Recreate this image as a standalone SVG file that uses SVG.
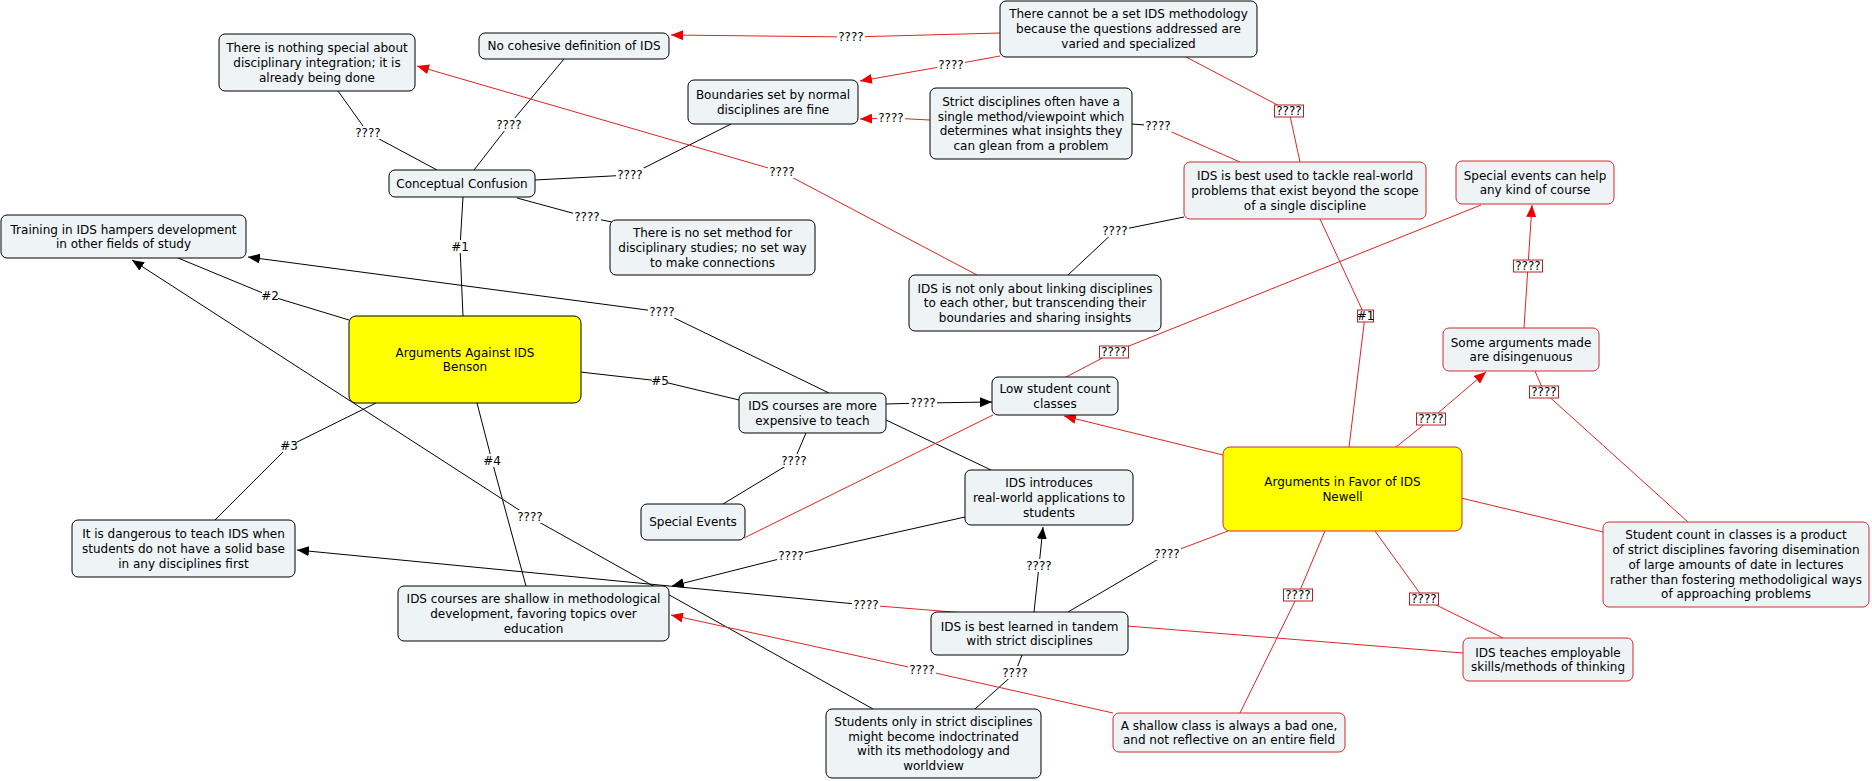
<svg xmlns="http://www.w3.org/2000/svg" width="1872" height="781" viewBox="0 0 1872 781">
<style>
text{font-family:"DejaVu Sans",Verdana,sans-serif;font-size:12px;text-anchor:middle;fill:#000}
.n{fill:#eef3f5;stroke:#000;stroke-width:1}
.nr{fill:#eef3f5;stroke:#d42a2a;stroke-width:1}
.y{fill:#ffff00;stroke:#000;stroke-width:1}
.yr{fill:#ffff00;stroke:#d42a2a;stroke-width:1}
.k{fill:none;stroke:#000;stroke-width:1}
.r{fill:none;stroke:#e02424;stroke-width:1}
.lb{fill:#fff;stroke:none}
.lbr{fill:#fff;stroke:#b22222;stroke-width:1}
</style>
<defs>
<marker id="ak" viewBox="0 0 12 10" refX="12" refY="5" markerWidth="12" markerHeight="10" markerUnits="userSpaceOnUse" orient="auto"><path d="M0,0 L12,5 L0,10 z" fill="#000"/></marker>
<marker id="ar" viewBox="0 0 12 10" refX="12" refY="5" markerWidth="12" markerHeight="10" markerUnits="userSpaceOnUse" orient="auto"><path d="M0,0 L12,5 L0,10 z" fill="#e00"/></marker>
</defs>
<rect width="1872" height="781" fill="#fff"/>
<g id="connectors">
<!-- black -->
<polyline class="k" points="437,170 368,133 338,91"/>
<polyline class="k" points="474,170 509,125 564,59"/>
<polyline class="k" points="535,180 630,175 731,124"/>
<polyline class="k" points="517,198 587,217 612,222"/>
<polyline class="k" points="463,316 460,247 463,197"/>
<polyline class="k" points="349,320 270,296 178,258"/>
<polyline class="k" points="376,403 289,446 215,520"/>
<polyline class="k" points="477,403 492,461 526,586"/>
<polyline class="k" points="580,372 660,381 739,400"/>
<polyline class="k" points="829,393 662,312 248,257" marker-end="url(#ak)"/>
<polyline class="k" points="886,404 923,403 992,402" marker-end="url(#ak)"/>
<polyline class="k" points="806,433 794,461 723,504"/>
<line class="k" x1="886" y1="420" x2="991" y2="470"/>
<polyline class="k" points="873,709 530,517 132,260" marker-end="url(#ak)"/>
<polyline class="k" points="965,517 791,556 672,586" marker-end="url(#ak)"/>
<polyline class="k" points="1034,612 1039,566 1043,527" marker-end="url(#ak)"/>
<polyline class="k" points="1068,612 1167,554"/>
<polyline class="r" points="1167,554 1228,531"/>
<polyline class="k" points="1022,655 1015,673 975,709"/>
<polyline class="r" points="1463,653 866,605"/>
<polyline class="k" points="866,605 297,550" marker-end="url(#ak)"/>
<polyline class="k" points="1184,217 1115,231 1068,275"/>
<!-- red -->
<polyline class="r" points="977,275 782,172 417,66" marker-end="url(#ar)"/>
<polyline class="r" points="930,120 891,118 860,119" marker-end="url(#ar)"/>
<polyline class="k" points="1132,124 1158,126"/>
<polyline class="r" points="1158,126 1240,162"/>
<polyline class="r" points="1000,33 851,37 671,35" marker-end="url(#ar)"/>
<polyline class="r" points="1000,56 951,65 860,81" marker-end="url(#ar)"/>
<polyline class="r" points="1300,162 1289,111 1186,57"/>
<polyline class="r" points="1349,447 1365,316 1320,219"/>
<polyline class="r" points="1396,447 1431,419 1486,372" marker-end="url(#ar)"/>
<line class="r" x1="1461" y1="498" x2="1603" y2="532"/>
<polyline class="r" points="1325,531 1298,595 1240,713"/>
<polyline class="r" points="1375,531 1424,599 1503,638"/>
<polyline class="r" points="1688,522 1544,392 1535,371"/>
<polyline class="r" points="1524,328 1528,266 1532,205" marker-end="url(#ar)"/>
<polyline class="r" points="1481,205 1114,352 1066,377"/>
<line class="r" x1="744" y1="538" x2="993" y2="415"/>
<line class="r" x1="1223" y1="455" x2="1064" y2="416" marker-end="url(#ar)"/>
<polyline class="r" points="1113,713 922,670 671,615" marker-end="url(#ar)"/>
<!-- labels -->
<g>
<rect class="lb" x="354" y="126" width="28" height="13"/><text x="368" y="137.3">????</text>
<rect class="lb" x="495" y="118" width="28" height="13"/><text x="509" y="129.3">????</text>
<rect class="lb" x="616" y="168" width="28" height="13"/><text x="630" y="179.3">????</text>
<rect class="lb" x="573" y="210" width="28" height="13"/><text x="587" y="221.3">????</text>
<rect class="lb" x="452" y="240" width="16" height="13"/><text x="460" y="251.3">#1</text>
<rect class="lb" x="262" y="289" width="16" height="13"/><text x="270" y="300.3">#2</text>
<rect class="lb" x="281" y="439" width="16" height="13"/><text x="289" y="450.3">#3</text>
<rect class="lb" x="484" y="454" width="16" height="13"/><text x="492" y="465.3">#4</text>
<rect class="lb" x="652" y="374" width="16" height="13"/><text x="660" y="385.3">#5</text>
<rect class="lb" x="648" y="305" width="28" height="13"/><text x="662" y="316.3">????</text>
<rect class="lb" x="909" y="396" width="28" height="13"/><text x="923" y="407.3">????</text>
<rect class="lb" x="780" y="454" width="28" height="13"/><text x="794" y="465.3">????</text>
<rect class="lb" x="516" y="510" width="28" height="13"/><text x="530" y="521.3">????</text>
<rect class="lb" x="777" y="549" width="28" height="13"/><text x="791" y="560.3">????</text>
<rect class="lb" x="1025" y="559" width="28" height="13"/><text x="1039" y="570.3">????</text>
<rect class="lb" x="1153" y="547" width="28" height="13"/><text x="1167" y="558.3">????</text>
<rect class="lb" x="1001" y="666" width="28" height="13"/><text x="1015" y="677.3">????</text>
<rect class="lb" x="852" y="598" width="28" height="13"/><text x="866" y="609.3">????</text>
<rect class="lb" x="1101" y="224" width="28" height="13"/><text x="1115" y="235.3">????</text>
<rect class="lb" x="768" y="165" width="28" height="13"/><text x="782" y="176.3">????</text>
<rect class="lb" x="877" y="111" width="28" height="13"/><text x="891" y="122.3">????</text>
<rect class="lb" x="1144" y="119" width="28" height="13"/><text x="1158" y="130.3">????</text>
<rect class="lb" x="837" y="30" width="28" height="13"/><text x="851" y="41.3">????</text>
<rect class="lb" x="937" y="58" width="28" height="13"/><text x="951" y="69.3">????</text>
<rect class="lb" x="908" y="663" width="28" height="13"/><text x="922" y="674.3">????</text>
<rect class="lbr" x="1274.5" y="105" width="29" height="12"/><text x="1289" y="115.3">????</text>
<rect class="lbr" x="1357.5" y="310" width="16" height="12"/><text x="1365.5" y="320.3">#1</text>
<rect class="lbr" x="1416.5" y="413" width="29" height="12"/><text x="1431" y="423.3">????</text>
<rect class="lbr" x="1283.5" y="589" width="29" height="12"/><text x="1298" y="599.3">????</text>
<rect class="lbr" x="1409.5" y="593" width="29" height="12"/><text x="1424" y="603.3">????</text>
<rect class="lbr" x="1529.5" y="386" width="29" height="12"/><text x="1544" y="396.3">????</text>
<rect class="lbr" x="1513.5" y="260" width="29" height="12"/><text x="1528" y="270.3">????</text>
<rect class="lbr" x="1099.5" y="346" width="29" height="12"/><text x="1114" y="356.3">????</text>
</g>
</g>
<g id="n1"><rect class="n" x="219" y="34" width="196" height="57" rx="6"/><text x="317" y="52.1">There is nothing special about<tspan x="317" dy="14.7">disciplinary integration; it is</tspan><tspan x="317" dy="14.7">already being done</tspan></text></g>
<g id="n2"><rect class="n" x="479" y="33" width="190" height="26" rx="6"/><text x="574" y="50.3">No cohesive definition of IDS</text></g>
<g id="n3"><rect class="n" x="688" y="80" width="170" height="44" rx="6"/><text x="773" y="99">Boundaries set by normal<tspan x="773" dy="14.7">disciplines are fine</tspan></text></g>
<g id="n4"><rect class="n" x="389" y="170" width="146" height="27" rx="6"/><text x="462" y="187.8">Conceptual Confusion</text></g>
<g id="n5"><rect class="n" x="1" y="215" width="245" height="43" rx="6"/><text x="123.5" y="233.5">Training in IDS hampers development<tspan x="123.5" dy="14.7">in other fields of study</tspan></text></g>
<g id="n6"><rect class="n" x="610" y="220" width="205" height="55" rx="6"/><text x="712.5" y="237.1">There is no set method for<tspan x="712.5" dy="14.7">disciplinary studies; no set way</tspan><tspan x="712.5" dy="14.7">to make connections</tspan></text></g>
<g id="n7"><rect class="y" x="349" y="316" width="232" height="87" rx="7"/><text x="465" y="356.5">Arguments Against IDS<tspan x="465" dy="14.7">Benson</tspan></text></g>
<g id="n8"><rect class="n" x="1000" y="1" width="257" height="56" rx="6"/><text x="1128.5" y="18.1">There cannot be a set IDS methodology<tspan x="1128.5" dy="14.7">because the questions addressed are</tspan><tspan x="1128.5" dy="14.7">varied and specialized</tspan></text></g>
<g id="n9"><rect class="n" x="930" y="88" width="202" height="71" rx="6"/><text x="1031" y="105.8">Strict disciplines often have a<tspan x="1031" dy="14.7">single method/viewpoint which</tspan><tspan x="1031" dy="14.7">determines what insights they</tspan><tspan x="1031" dy="14.7">can glean from a problem</tspan></text></g>
<g id="n10"><rect class="nr" x="1184" y="162" width="242" height="57" rx="6"/><text x="1305" y="180.1">IDS is best used to tackle real-world<tspan x="1305" dy="14.7">problems that exist beyond the scope</tspan><tspan x="1305" dy="14.7">of a single discipline</tspan></text></g>
<g id="n11"><rect class="nr" x="1456" y="161" width="158" height="43" rx="6"/><text x="1535" y="179.5">Special events can help<tspan x="1535" dy="14.7">any kind of course</tspan></text></g>
<g id="n12"><rect class="n" x="909" y="275" width="252" height="56" rx="6"/><text x="1035" y="292.6">IDS is not only about linking disciplines<tspan x="1035" dy="14.7">to each other, but transcending their</tspan><tspan x="1035" dy="14.7">boundaries and sharing insights</tspan></text></g>
<g id="n13"><rect class="nr" x="1443" y="328" width="156" height="43" rx="6"/><text x="1521" y="346.5">Some arguments made<tspan x="1521" dy="14.7">are disingenuous</tspan></text></g>
<g id="n14"><rect class="n" x="992" y="377" width="126" height="38" rx="6"/><text x="1055" y="393">Low student count<tspan x="1055" dy="14.7">classes</tspan></text></g>
<g id="n15"><rect class="n" x="739" y="393" width="147" height="40" rx="6"/><text x="812.5" y="410">IDS courses are more<tspan x="812.5" dy="14.7">expensive to teach</tspan></text></g>
<g id="n16"><rect class="n" x="965" y="470" width="168" height="55" rx="6"/><text x="1049" y="487.1">IDS introduces<tspan x="1049" dy="14.7">real-world applications to</tspan><tspan x="1049" dy="14.7">students</tspan></text></g>
<g id="n17"><rect class="yr" x="1223" y="447" width="239" height="84" rx="7"/><text x="1342.5" y="486.2">Arguments in Favor of IDS<tspan x="1342.5" dy="14.7">Newell</tspan></text></g>
<g id="n18"><rect class="n" x="641" y="504" width="104" height="36" rx="6"/><text x="693" y="526.3">Special Events</text></g>
<g id="n19"><rect class="n" x="72" y="520" width="223" height="57" rx="6"/><text x="183.5" y="538.1">It is dangerous to teach IDS when<tspan x="183.5" dy="14.7">students do not have a solid base</tspan><tspan x="183.5" dy="14.7">in any disciplines first</tspan></text></g>
<g id="n20"><rect class="n" x="398" y="586" width="271" height="55" rx="6"/><text x="533.5" y="603.1">IDS courses are shallow in methodological<tspan x="533.5" dy="14.7">development, favoring topics over</tspan><tspan x="533.5" dy="14.7">education</tspan></text></g>
<g id="n21"><rect class="nr" x="1603" y="522" width="266" height="85" rx="6"/><text x="1736" y="539.4">Student count in classes is a product<tspan x="1736" dy="14.7">of strict disciplines favoring disemination</tspan><tspan x="1736" dy="14.7">of large amounts of date in lectures</tspan><tspan x="1736" dy="14.7">rather than fostering methodoligical ways</tspan><tspan x="1736" dy="14.7">of approaching problems</tspan></text></g>
<g id="n22"><rect class="n" x="931" y="612" width="197" height="43" rx="6"/><text x="1029.5" y="630.5">IDS is best learned in tandem<tspan x="1029.5" dy="14.7">with strict disciplines</tspan></text></g>
<g id="n23"><rect class="nr" x="1463" y="638" width="170" height="43" rx="6"/><text x="1548" y="656.5">IDS teaches employable<tspan x="1548" dy="14.7">skills/methods of thinking</tspan></text></g>
<g id="n24"><rect class="n" x="826" y="709" width="215" height="69" rx="6"/><text x="933.5" y="725.8">Students only in strict disciplines<tspan x="933.5" dy="14.7">might become indoctrinated</tspan><tspan x="933.5" dy="14.7">with its methodology and</tspan><tspan x="933.5" dy="14.7">worldview</tspan></text></g>
<g id="n25"><rect class="nr" x="1113" y="713" width="232" height="39" rx="6"/><text x="1229" y="729.5">A shallow class is always a bad one,<tspan x="1229" dy="14.7">and not reflective on an entire field</tspan></text></g>
</svg>
